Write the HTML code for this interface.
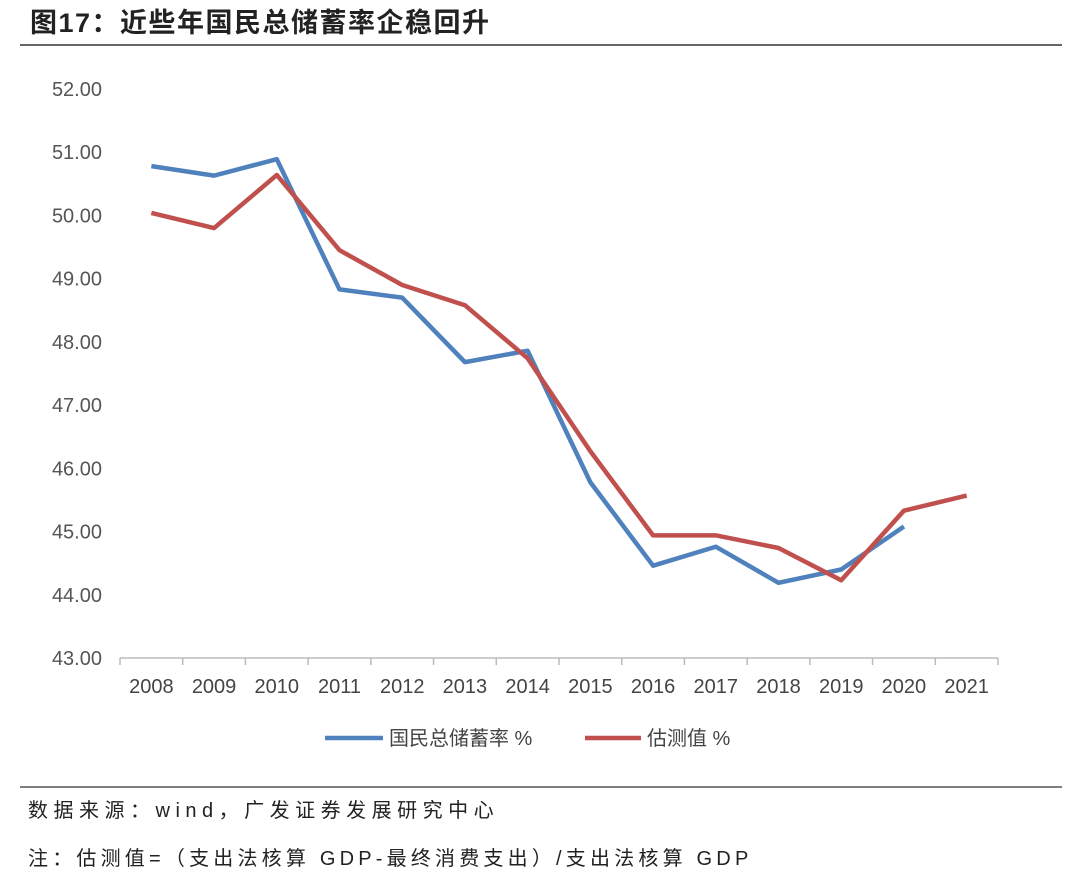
<!DOCTYPE html>
<html><head><meta charset="utf-8"><style>
body{margin:0;background:#fff;width:1080px;height:888px;overflow:hidden;font-family:"Liberation Sans","Noto Sans CJK SC",sans-serif;}
</style></head><body>
<svg width="1080" height="888" xmlns="http://www.w3.org/2000/svg">
<text x="30" y="32" font-size="27" font-weight="bold" fill="#222" letter-spacing="1.5" font-family="Liberation Sans,Noto Sans CJK SC,sans-serif">图17：近些年国民总储蓄率企稳回升</text>
<line x1="20" y1="45" x2="1062" y2="45" stroke="#333" stroke-width="1.5"/>
<g id="plot"></g>
<line x1="20" y1="787" x2="1062" y2="787" stroke="#333" stroke-width="1.2"/>
<text x="28" y="817" font-size="20" fill="#222" letter-spacing="5.5">数据来源：wind，广发证券发展研究中心</text>
<text x="28" y="865" font-size="20" fill="#222" letter-spacing="4.2">注：估测值=（支出法核算 GDP-最终消费支出）/支出法核算 GDP</text>
</svg>
<script>
const categories=["2008","2009","2010","2011","2012","2013","2014","2015","2016","2017","2018","2019","2020","2021"];
const savingsRate=[50.78,50.63,50.89,48.83,48.70,47.68,47.86,45.78,44.46,44.76,44.19,44.40,45.08,null];
const estimate=[50.04,49.80,50.64,49.45,48.90,48.58,47.74,46.27,44.94,44.94,44.74,44.23,45.33,45.57];
const yTicks=[43,44,45,46,47,48,49,50,51,52];
const NS="http://www.w3.org/2000/svg";
const g=document.getElementById('plot');
const x0=120,x1=998,yTop=89,yBot=658,ymin=43,ymax=52;
const step=(x1-x0)/categories.length;
const X=i=>x0+step*(i+0.5);
const Y=v=>yBot-(v-ymin)/(ymax-ymin)*(yBot-yTop);
function el(t,a){const e=document.createElementNS(NS,t);for(const k in a)e.setAttribute(k,a[k]);g.appendChild(e);return e;}
yTicks.forEach(v=>{const t=el('text',{x:102,y:Y(v)+7,'text-anchor':'end','font-size':20,fill:'#555'});t.textContent=v.toFixed(2);

});
const ax=el('line',{x1:x0,y1:yBot,x2:x1,y2:yBot,stroke:'#bbb','stroke-width':1.5});


for(let i=0;i<=categories.length;i++){const tk=el('line',{x1:x0+step*i,y1:yBot,x2:x0+step*i,y2:yBot+7,stroke:'#bbb','stroke-width':1.5});

}
categories.forEach((c,i)=>{const t=el('text',{x:X(i),y:693,'text-anchor':'middle','font-size':20,fill:'#444'});t.textContent=c;

});
function line(data,color,name){const pts=data.map((v,i)=>v==null?null:X(i)+','+Y(v)).filter(p=>p).join(' ');
const p=el('polyline',{points:pts,fill:'none',stroke:color,'stroke-width':4.5,'stroke-linejoin':'round'});

}
line(savingsRate,'#4f81bd','series-savings-rate');
line(estimate,'#c0504d','series-estimate');
const l1=el('line',{x1:325,y1:738,x2:383,y2:738,stroke:'#4f81bd','stroke-width':4.5});


const t1=el('text',{x:389,y:745,'font-size':20,fill:'#444'});t1.textContent='国民总储蓄率 %';


const l2=el('line',{x1:585,y1:738,x2:641,y2:738,stroke:'#c0504d','stroke-width':4.5});


const t2=el('text',{x:647,y:745,'font-size':20,fill:'#444'});t2.textContent='估测值 %';


</script>
</body></html>
